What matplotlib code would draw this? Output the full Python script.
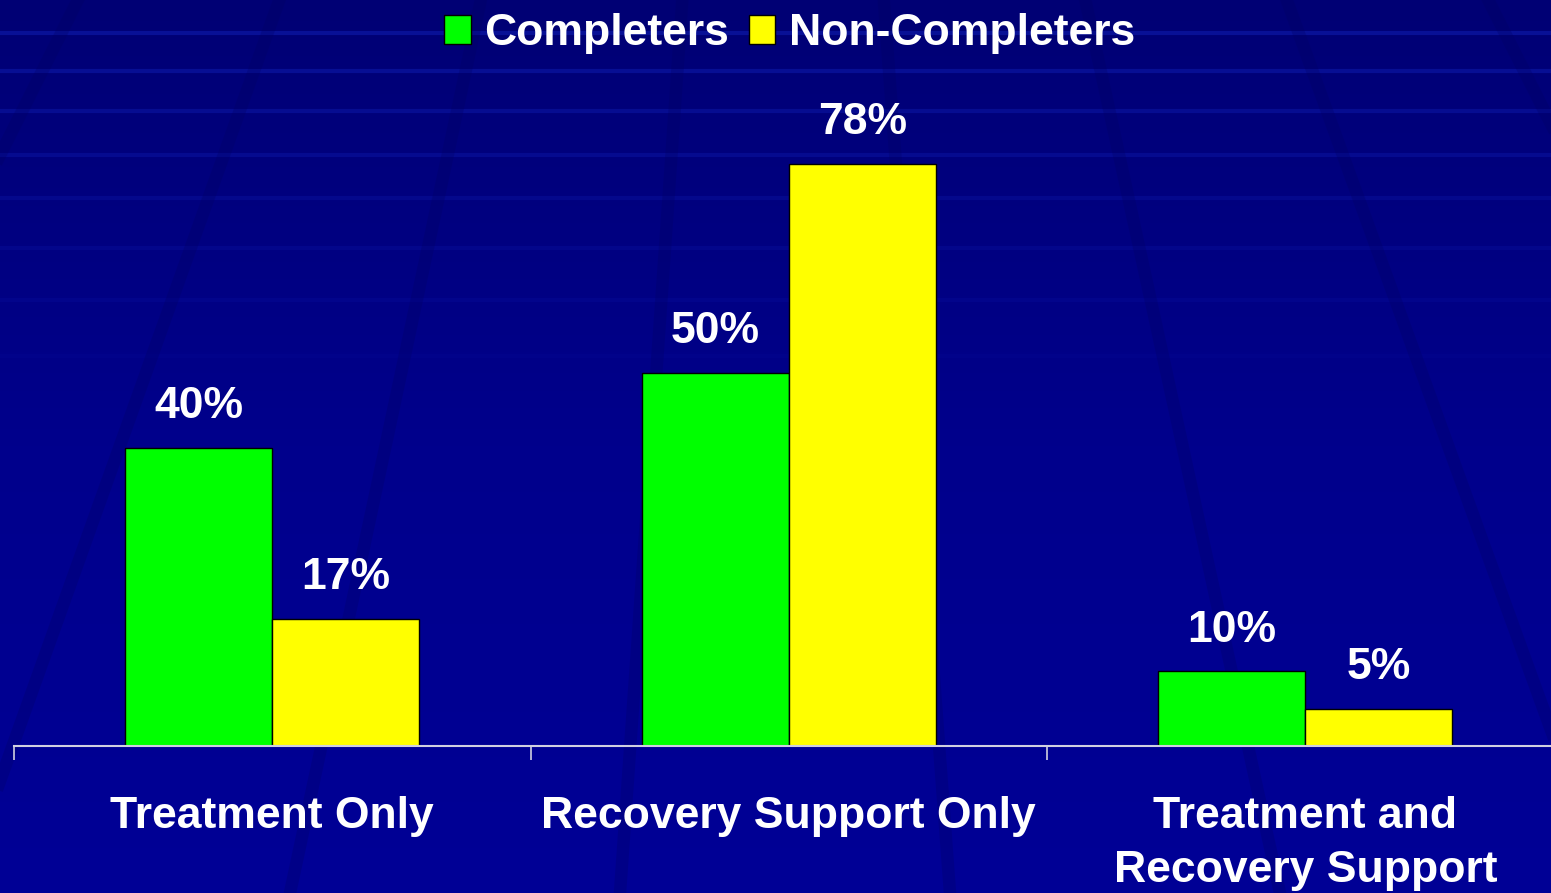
import numpy as np
import matplotlib
matplotlib.use("Agg")
import matplotlib.pyplot as plt
from matplotlib.patches import Patch

categories = ["Treatment Only", "Recovery Support Only", "Treatment and\nRecovery Support"]
completers = [40, 50, 10]
non_completers = [17, 78, 5]
series_names = ["Completers", "Non-Completers"]
series_colors = ["#00FF00", "#FFFF00"]

plt.rcParams['font.family'] = ['Liberation Sans', 'DejaVu Sans']

W, H = 1551, 893
fig = plt.figure(figsize=(W / 100, H / 100), dpi=100)

# background: dark blue gradient with a faint grid
bg = fig.add_axes([0, 0, 1, 1])
bg.set_xlim(0, W)
bg.set_ylim(H, 0)
grad = np.linspace(0, 1, 256).reshape(-1, 1)
cmap = matplotlib.colors.LinearSegmentedColormap.from_list("bg", ["#000074", "#00008C", "#000096"])
bg.imshow(grad, aspect="auto", cmap=cmap, extent=[0, W, H, 0])
for i, y in enumerate([33, 71, 111, 155, 198, 248, 300, 356]):
    bg.plot([0, W], [y, y], color="#1020B8", lw=3, alpha=max(0.5 - i * 0.06, 0.08))
vx, vy = 780, -1400
for x0 in np.arange(-700, 2300, 330):
    bg.plot([vx, x0], [vy, H], color="#000060", lw=9, alpha=0.25)
bg.axis("off")

ax = fig.add_axes([14 / W, 147 / H, 1549.5 / W, 746 / H])
ax.set_facecolor("none")
x = np.arange(len(categories)) + 0.5
w = 147 / 516.5
b1 = ax.bar(x - w / 2, completers, w, color=series_colors[0], edgecolor="black", linewidth=1)
b2 = ax.bar(x + w / 2, non_completers, w, color=series_colors[1], edgecolor="black", linewidth=1)

for bars, vals in [(b1, completers), (b2, non_completers)]:
    for bar, v in zip(bars, vals):
        ax.annotate(f"{v}%", (bar.get_x() + bar.get_width() / 2, v),
                    xytext=(0, 15), textcoords="offset points",
                    ha="center", va="bottom", color="white",
                    fontsize=32, fontweight="bold")

ax.set_xlim(0, 3)
ax.set_ylim(0, 100)
ax.set_yticks([])
ax.set_xticks([0, 1, 2, 3])
ax.set_xticklabels([])
ax.set_xticks(x, minor=True)
ax.set_xticklabels(categories, minor=True, color="white", fontsize=32,
                   fontweight="bold", linespacing=1.42)
ax.tick_params(axis="x", which="major", length=10, width=1.2, color="#D0D0E0", direction="out")
ax.tick_params(axis="x", which="minor", length=0, pad=36)
for s in ["top", "right", "left"]:
    ax.spines[s].set_visible(False)
ax.spines["bottom"].set_color("#D0D0E0")
ax.spines["bottom"].set_linewidth(1.5)

handles = [Patch(facecolor=c, edgecolor="black", label=n) for c, n in zip(series_colors, series_names)]
leg = fig.legend(handles=handles, loc="upper center", bbox_to_anchor=(0.509, 1.03), ncol=2,
                 frameon=False, fontsize=32, handlelength=0.6, handleheight=0.6,
                 handletextpad=0.3, columnspacing=0.45)
for t in leg.get_texts():
    t.set_color("white")
    t.set_fontweight("bold")

fig.savefig("out.png", dpi=100, facecolor="#000080")
